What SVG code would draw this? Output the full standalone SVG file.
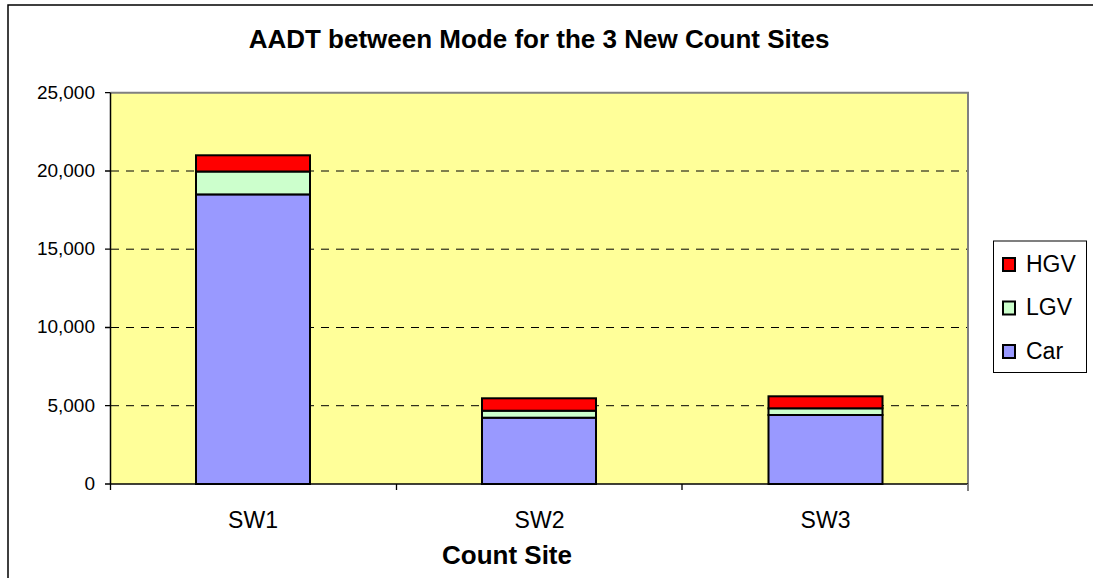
<svg xmlns="http://www.w3.org/2000/svg" width="1093" height="578" viewBox="0 0 1093 578">
  <style>
    .lbl { font-family: "Liberation Sans", Arial, sans-serif; fill: #000; }
    .ytick { font-size: 19px; text-anchor: end; }
    .xtick { font-size: 23px; text-anchor: middle; }
    .title { font-size: 26px; font-weight: bold; text-anchor: middle; }
    .axtitle { font-size: 26px; font-weight: bold; text-anchor: middle; }
    .leg { font-size: 23px; }
    .grid { stroke: #000; stroke-width: 1; stroke-dasharray: 8 7; }
    .bar { stroke: #000; stroke-width: 2; }
    .car { fill: #9999FF; }
    .lgv { fill: #CCFFCC; }
    .hgv { fill: #FF0000; }
    .tick { stroke: #000; stroke-width: 1.3; }
  </style>

  <rect x="0" y="0" width="1093" height="578" fill="#fff"/>

  <!-- chart frame -->
  <path d="M8 578 V5 H1093" fill="none" stroke="#000" stroke-width="1.5"/>

  <text class="lbl title" x="539" y="48">AADT between Mode for the 3 New Count Sites</text>

  <!-- plot area -->
  <g id="plot-area">
    <rect x="110.5" y="92.7" width="857.5" height="391.3" fill="#FFFF99"/>
    <path d="M110.5 92.7 H968 V484" fill="none" stroke="#808080" stroke-width="2"/>
  </g>

  <!-- gridlines -->
  <g id="gridlines">
    <line class="grid" x1="111" y1="171" x2="967" y2="171"/>
    <line class="grid" x1="111" y1="249.2" x2="967" y2="249.2"/>
    <line class="grid" x1="111" y1="327.5" x2="967" y2="327.5"/>
    <line class="grid" x1="111" y1="405.7" x2="967" y2="405.7"/>
  </g>

  <!-- stacked bars -->
  <g id="bar-SW1">
    <rect class="bar car" x="196" y="194.4" width="114" height="289.6"/>
    <rect class="bar lgv" x="196" y="171.5" width="114" height="22.9"/>
    <rect class="bar hgv" x="196" y="155.3" width="114" height="16.2"/>
  </g>
  <g id="bar-SW2">
    <rect class="bar car" x="482" y="417.7" width="114" height="66.3"/>
    <rect class="bar lgv" x="482" y="410.7" width="114" height="7"/>
    <rect class="bar hgv" x="482" y="398.3" width="114" height="12.4"/>
  </g>
  <g id="bar-SW3">
    <rect class="bar car" x="768.5" y="415" width="114" height="69"/>
    <rect class="bar lgv" x="768.5" y="408.3" width="114" height="6.7"/>
    <rect class="bar hgv" x="768.5" y="396.3" width="114" height="12"/>
  </g>

  <!-- axes -->
  <g id="axes">
    <line x1="110.5" y1="92.7" x2="110.5" y2="484" stroke="#000" stroke-width="1.5"/>
    <line x1="110.5" y1="484" x2="968" y2="484" stroke="#000" stroke-width="1.5"/>
    <path class="tick" d="M105 92.7 H110.5 M105 171 H110.5 M105 249.2 H110.5 M105 327.5 H110.5 M105 405.7 H110.5 M105 484 H110.5"/>
    <path class="tick" d="M110.5 484 V490 M396.5 484 V490 M682 484 V490"/>
    <line x1="968" y1="484" x2="968" y2="491" stroke="#808080" stroke-width="2"/>
  </g>

  <!-- axis labels -->
  <g id="y-labels" class="lbl ytick">
    <text x="95" y="98.5">25,000</text>
    <text x="95" y="176.8">20,000</text>
    <text x="95" y="255">15,000</text>
    <text x="95" y="333.3">10,000</text>
    <text x="95" y="411.5">5,000</text>
    <text x="95" y="490">0</text>
  </g>
  <g id="x-labels" class="lbl xtick">
    <text x="253" y="528">SW1</text>
    <text x="539.5" y="528">SW2</text>
    <text x="825.5" y="528">SW3</text>
  </g>
  <text class="lbl axtitle" x="507" y="564">Count Site</text>

  <!-- legend -->
  <g id="legend">
    <rect x="993.5" y="241" width="93" height="131.5" fill="#fff" stroke="#000" stroke-width="1"/>
    <rect class="bar hgv" x="1003" y="258" width="12" height="13" stroke-width="1.5"/>
    <rect class="bar lgv" x="1003" y="301.5" width="12" height="13" stroke-width="1.5"/>
    <rect class="bar car" x="1003" y="345" width="12" height="13" stroke-width="1.5"/>
    <text class="lbl leg" x="1026" y="271.5">HGV</text>
    <text class="lbl leg" x="1026" y="315">LGV</text>
    <text class="lbl leg" x="1026" y="359">Car</text>
  </g>
</svg>
